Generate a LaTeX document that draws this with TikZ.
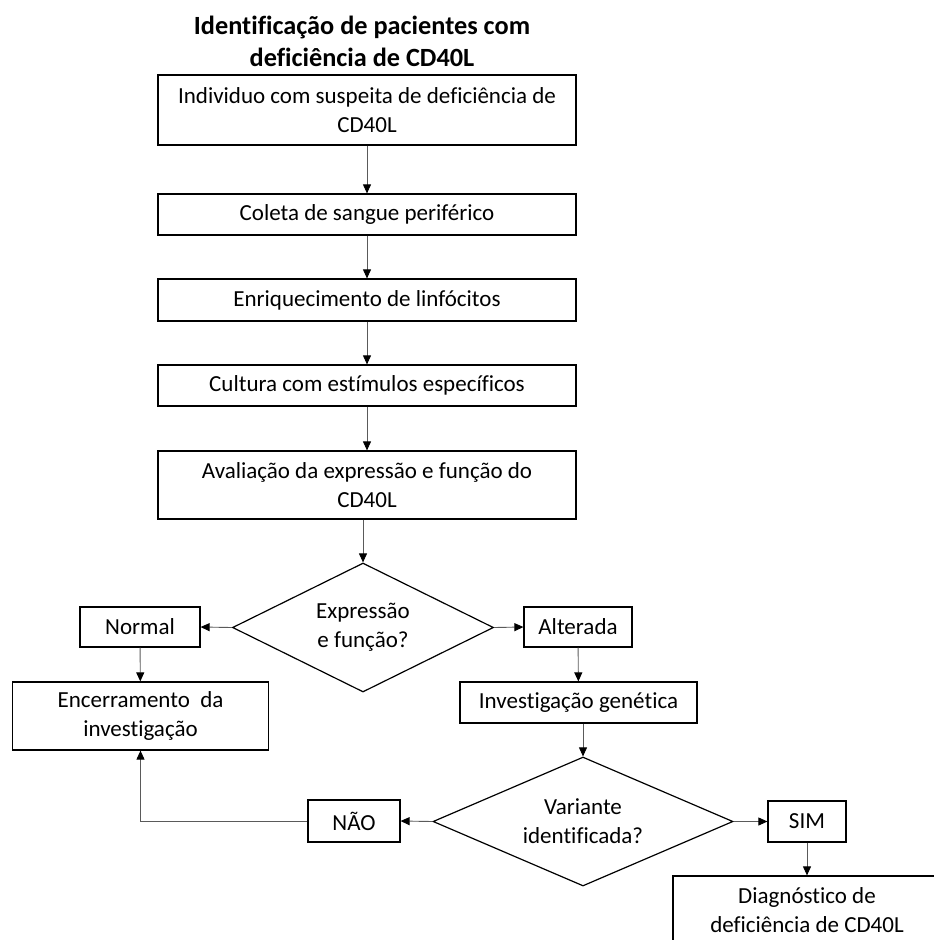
\documentclass[tikz,border=0pt]{standalone}
\usepackage{fontspec}
\setmainfont{Carlito}[Ligatures=CommonOff]
\usetikzlibrary{shapes.geometric, positioning, arrows.meta}
\definecolor{linegray}{RGB}{90,90,90}

\begin{document}
\begin{tikzpicture}[x=1pt, y=-1pt,
        every node/.style={draw, line width=1.2pt, inner sep=0pt, align=center,
            font=\fontsize{23}{29}\selectfont},
        choice/.style={diamond, aspect=2},
        arr/.style={draw=linegray, line width=0.9pt,
            -{Triangle[length=9pt, width=8pt, color=black]}}]
        \useasboundingbox (0,0) rectangle (934,940);

        % Title
        \node[draw=none, font=\fontsize{26.3}{32}\bfseries\selectfont] (title) at (362,41)
            {Identificação de pacientes com\\deficiência de CD40L};

        % Main column
        \node[minimum width=418, minimum height=70] (b1) at (367,110)
            {Individuo com suspeita de deficiência de\\CD40L};
        \node[minimum width=418, minimum height=41] (b2) at (367,214.5) {Coleta de sangue periférico};
        \node[minimum width=418, minimum height=42] (b3) at (367,300) {Enriquecimento de linfócitos};
        \node[minimum width=418, minimum height=41] (b4) at (367,385.5) {Cultura com estímulos específicos};
        \node[minimum width=418, minimum height=68] (b5) at (367,485)
            {Avaliação da expressão e função do\\CD40L};

        % First decision
        \node[choice, minimum width=261, minimum height=129] (d1) at (363,627.5)
            {Expressão\\e função?};
        \node[minimum width=120, minimum height=40] (normal) at (140,627) {Normal};
        \node[minimum width=108, minimum height=40] (alt) at (578,627) {Alterada};
        \node[minimum width=256, minimum height=68] (enc) at (140.5,716)
            {Encerramento \ da\\investigação};
        \node[minimum width=237, minimum height=41] (inv) at (578.5,702.5) {Investigação genética};

        % Second decision
        \node[choice, minimum width=300, minimum height=129] (d2) at (583,821.5)
            {Variante\\identificada?};
        \node[minimum width=92, minimum height=42] (nao) at (354,821) {NÃO};
        \node[minimum width=78, minimum height=41] (sim) at (807,821.5) {SIM};
        \node[minimum width=268, minimum height=68] (diag) at (807,910)
            {Diagnóstico de\\deficiência de CD40L};

        % Connectors
        \draw[arr] (b1) -- (b2);
        \draw[arr] (b2) -- (b3);
        \draw[arr] (b3) -- (b4);
        \draw[arr] (b4) -- (b5);
        \draw[arr] (b5.south -| d1.north) -- (d1.north);

        \draw[arr] (d1.west) -- (normal.east);
        \draw[arr] (d1.east) -- (alt.west);
        \draw[arr] (normal) -- (enc);
        \draw[arr] (alt) -- (inv);
        \draw[arr] (inv.south -| d2.north) -- (d2.north);

        \draw[arr] (d2.west) -- (nao.east);
        \draw[arr] (d2.east) -- (sim.west);
        \draw[arr] (nao.west) -| (enc.south);
        \draw[arr] (sim) -- (diag);
    \end{tikzpicture}
\end{document}
